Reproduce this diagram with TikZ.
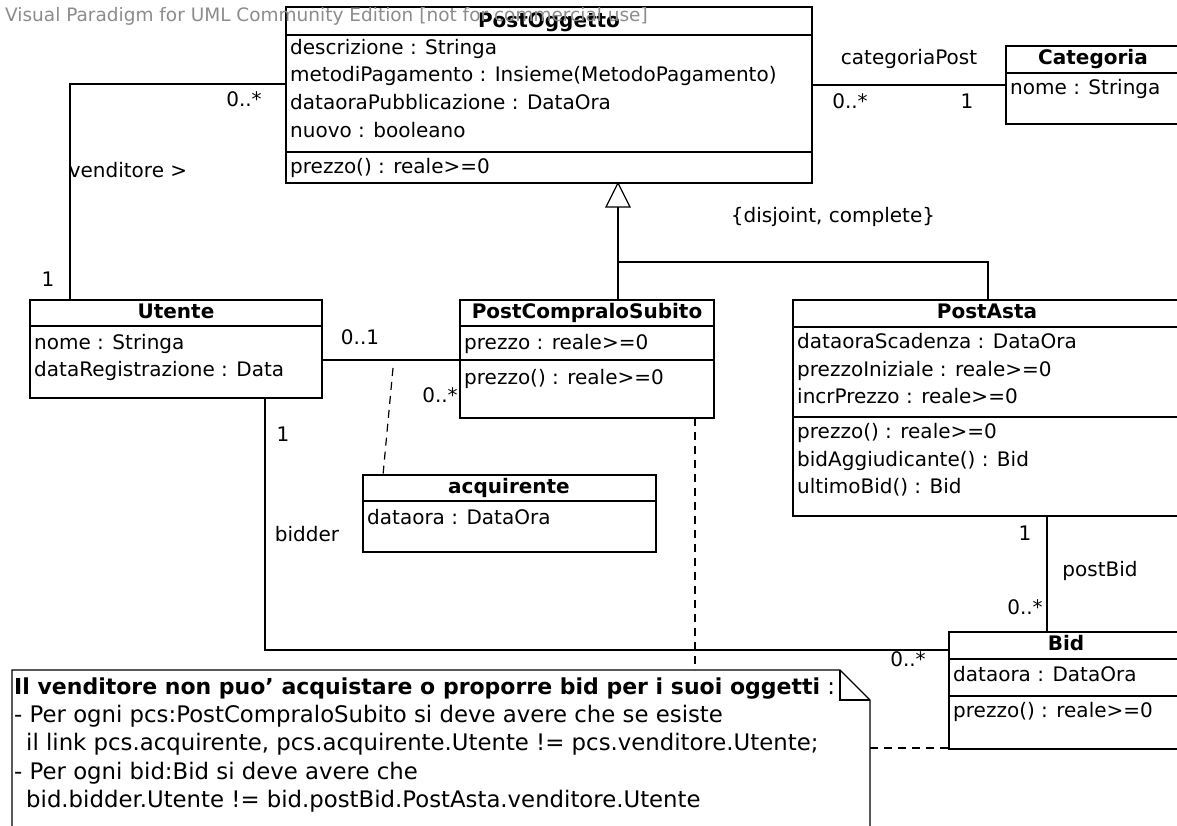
\documentclass[tikz,border=0pt]{standalone}
\usepackage{fontspec}
\setmainfont{DejaVu Sans}
\usetikzlibrary{calc}
\begin{document}
\begin{tikzpicture}[x=1pt,y=-1pt,
  box/.style={draw, line width=1.3pt, fill=white, anchor=north west, inner sep=0pt, outer sep=0pt},
  sep/.style={line width=1.3pt},
  conn/.style={line width=1.3pt},
  dashconn/.style={line width=1.2pt, dash pattern=on 8pt off 6pt},
  ttl/.style={font=\fontsize{20}{24}\selectfont\bfseries, inner sep=0pt, text height=12pt, text depth=4pt},
  att/.style={font=\fontsize{20}{24}\selectfont, inner sep=0pt, anchor=west, text height=12pt, text depth=4pt},
  notetxt/.style={font=\fontsize{22.8}{26}\selectfont, inner sep=0pt, anchor=west, text height=13pt, text depth=4pt},
  lbl/.style={font=\fontsize{20}{24}\selectfont, inner sep=0pt, text height=12pt, text depth=4pt}]
\useasboundingbox (0,0) rectangle (1177,825);
\clip (0,0) rectangle (1177,825);

% ---------- PostOggetto
\node[box, minimum width=526pt, minimum height=176pt] (po) at (286,7) {};
\draw[sep] (286,35) -- (812,35);
\draw[sep] (286,152) -- (812,152);
\node[ttl] (pot) at (549,23) {PostOggetto};
\node[att] (po1) at (290,50) {descrizione : Stringa};
\node[att] (po2) at (290,77) {metodiPagamento : Insieme(MetodoPagamento)};
\node[att] (po3) at (290,105) {dataoraPubblicazione : DataOra};
\node[att] (po4) at (290,133) {nuovo : booleano};
\node[att] (po5) at (290,169) {prezzo() : reale>=0};

% ---------- Categoria
\node[box, minimum width=175pt, minimum height=78pt] (cat) at (1006,46) {};
\draw[sep] (1006,73) -- (1181,73);
\node[ttl] (catt) at (1093,60) {Categoria};
\node[att] (cat1) at (1010,90) {nome : Stringa};

% ---------- Utente
\node[box, minimum width=292pt, minimum height=98pt] (ut) at (30,300) {};
\draw[sep] (30,326) -- (322,326);
\node[ttl] (utt) at (176,314) {Utente};
\node[att] (ut1) at (34,345) {nome : Stringa};
\node[att] (ut2) at (34,372) {dataRegistrazione : Data};

% ---------- PostCompraloSubito
\node[box, minimum width=254pt, minimum height=118pt] (pcs) at (460,300) {};
\draw[sep] (460,326) -- (714,326);
\draw[sep] (460,360) -- (714,360);
\node[ttl] (pcst) at (587,314) {PostCompraloSubito};
\node[att] (pcs1) at (464,345) {prezzo : reale>=0};
\node[att] (pcs2) at (464,380) {prezzo() : reale>=0};

% ---------- PostAsta
\node[box, minimum width=388pt, minimum height=216pt] (asta) at (793,300) {};
\draw[sep] (793,327) -- (1181,327);
\draw[sep] (793,417) -- (1181,417);
\node[ttl] (astat) at (987,314) {PostAsta};
\node[att] (asta1) at (797,344) {dataoraScadenza : DataOra};
\node[att] (asta2) at (797,372) {prezzoIniziale : reale>=0};
\node[att] (asta3) at (797,399) {incrPrezzo : reale>=0};
\node[att] (asta4) at (797,434) {prezzo() : reale>=0};
\node[att] (asta5) at (797,462) {bidAggiudicante() : Bid};
\node[att] (asta6) at (797,489) {ultimoBid() : Bid};

% ---------- acquirente
\node[box, minimum width=293pt, minimum height=77pt] (acq) at (363,475) {};
\draw[sep] (363,501) -- (656,501);
\node[ttl] (acqt) at (509,489) {acquirente};
\node[att] (acq1) at (367,520) {dataora : DataOra};

% ---------- Bid
\node[box, minimum width=234pt, minimum height=117pt] (bid) at (949,632) {};
\draw[sep] (949,659) -- (1183,659);
\draw[sep] (949,696) -- (1183,696);
\node[ttl] (bidt) at (1066,646) {Bid};
\node[att] (bid1) at (953,677) {dataora : DataOra};
\node[att] (bid2) at (953,713) {prezzo() : reale>=0};

% ---------- Note
\node[anchor=north west, minimum width=858pt, minimum height=160pt, inner sep=0pt, outer sep=0pt] (note) at (12,670) {};
\draw[conn, fill=white] (12,830) -- (12,670) -- (840,670) -- (870,700) -- (870,830);
\draw[conn] (840,670) -- (840,700) -- (870,700);
\node[notetxt] (n1) at (14,690) {{\fontsize{22}{26}\selectfont\bfseries Il venditore non puo' acquistare o proporre bid per i suoi oggetti} :};
\node[notetxt] (n2) at (14,718) {- Per ogni pcs:PostCompraloSubito si deve avere che se esiste};
\node[notetxt] (n3) at (14,746) {\hspace*{12pt}il link pcs.acquirente, pcs.acquirente.Utente != pcs.venditore.Utente;};
\node[notetxt] (n4) at (14,775) {- Per ogni bid:Bid si deve avere che};
\node[notetxt] (n5) at (14,803) {\hspace*{12pt}bid.bidder.Utente != bid.postBid.PostAsta.venditore.Utente};

% ---------- connectors
% venditore
\coordinate (vc) at (70,84);
\draw[conn] (ut.north -| vc) -- (vc) -- (vc -| po.west);
\node[lbl] (m1) at (244,102) {0..*};
\node[lbl] (m2) at (128,173) {venditore >};
\node[lbl] (m3) at (48,282) {1};

% categoriaPost
\coordinate (cc) at (900,85);
\draw[conn] (po.east |- cc) -- (cat.west |- cc);
\node[lbl] (m4) at (909,60) {categoriaPost};
\node[lbl] (m5) at (850,104) {0..*};
\node[lbl] (m6) at (967,104) {1};

% generalization
\coordinate (gx) at (618,262);
\coordinate (tb) at (618,207);
\coordinate (gr) at (988,262);
\draw[conn, fill=white] (po.south -| gx) -- ++(-12,24) -- ++(24,0) -- cycle;
\draw[conn] (tb) -- (pcs.north -| tb);
\draw[conn] (gx) -- (gr) -- (asta.north -| gr);
\node[lbl] (m7) at (833,218) {\{disjoint, complete\}};

% acquirente association
\coordinate (ac) at (400,360);
\draw[conn] (ut.east |- ac) -- (pcs.west |- ac);
\node[lbl] (m8) at (360,340) {0..1};
\node[lbl] (m9) at (440,398) {0..*};
\coordinate (ad) at (393,368);
\coordinate (ae) at (383,475);
\draw[dashconn] (ad) -- (ae);

% bidder
\coordinate (bc) at (265,650);
\draw[conn] (ut.south -| bc) -- (bc) -- (bid.west |- bc);
\node[lbl] (m10) at (283,437) {1};
\node[lbl] (m11) at (307,537) {bidder};
\node[lbl] (m12) at (908,662) {0..*};

% postBid
\coordinate (pb) at (1047,600);
\draw[conn] (asta.south -| pb) -- (bid.north -| pb);
\node[lbl] (m13) at (1025,536) {1};
\node[lbl] (m14) at (1100,572) {postBid};
\node[lbl] (m15) at (1025,610) {0..*};

% note links
\coordinate (nd) at (695,600);
\draw[dashconn] (pcs.south -| nd) -- (note.north -| nd);
\coordinate (nb) at (900,748);
\draw[dashconn] (note.east |- nb) -- (bid.west |- nb);

% watermark
\node[anchor=west, inner sep=0pt, text=black!45, font=\fontsize{18.5}{22}\selectfont] (wm) at (5,16) {Visual Paradigm for UML Community Edition [not for commercial use]};
\end{tikzpicture}
\end{document}
